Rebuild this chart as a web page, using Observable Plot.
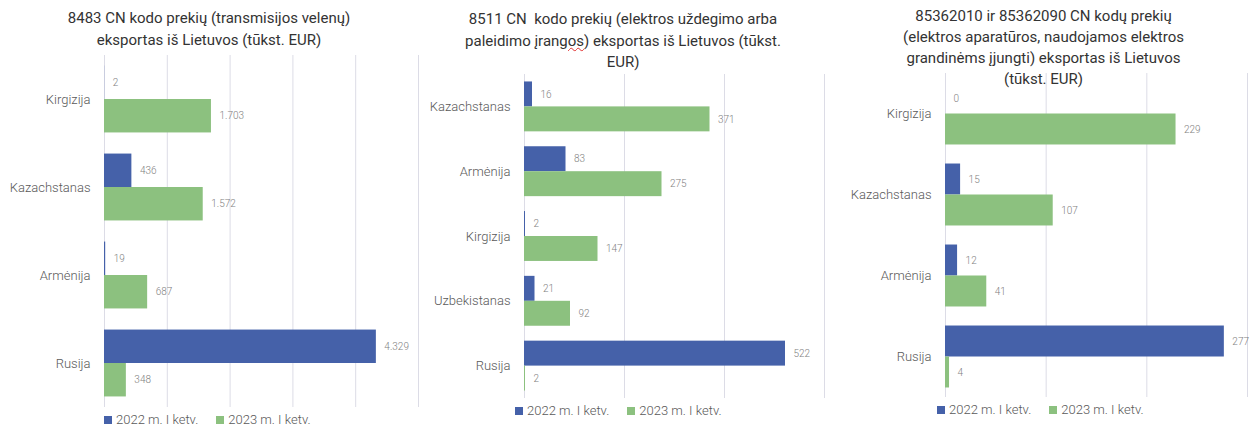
<!DOCTYPE html>
<html><head><meta charset="utf-8">
<script src="https://cdn.jsdelivr.net/npm/d3@7"></script>
<script src="https://cdn.jsdelivr.net/npm/@observablehq/plot@0.6"></script>
<style>
body{margin:0;background:#fff;font-family:Roboto,"Noto Sans",sans-serif;}
#root{position:relative;width:1251px;height:430px;overflow:hidden;background:#fff;}
.panel{position:absolute;top:0;}
.title{position:absolute;text-align:center;font-size:15px;color:#333;line-height:21.5px;white-space:nowrap;}
.legend{position:absolute;font-size:13px;font-weight:300;color:#595959;display:flex;align-items:center;white-space:nowrap;line-height:14px;}
.sw{display:inline-block;width:8px;height:8px;margin-right:4px;}
.gap{display:inline-block;width:18px;}
.spell{text-decoration:underline wavy #e03030;text-decoration-thickness:1px;}
</style></head>
<body><div id="root"></div>
<script>
// ---- data ----
const seriesNames = ["2022 m. I ketv.", "2023 m. I ketv."];

const p1Countries = ["Kirgizija", "Kazachstanas", "Armėnija", "Rusija"];
const p1Values2022 = [2, 436, 19, 4329];
const p1Values2023 = [1703, 1572, 687, 348];
const p1Ticks = [0, 1000, 2000, 3000, 4000, 5000];

const p2Countries = ["Kazachstanas", "Armėnija", "Kirgizija", "Uzbekistanas", "Rusija"];
const p2Values2022 = [16, 83, 2, 21, 522];
const p2Values2023 = [371, 275, 147, 92, 2];
const p2Ticks = [0, 200, 400, 600];

const p3Countries = ["Kirgizija", "Kazachstanas", "Armėnija", "Rusija"];
const p3Values2022 = [0, 15, 12, 277];
const p3Values2023 = [229, 107, 41, 4];
const p3Ticks = [0, 100, 200, 300];

const BLUE = "#4561a9";
const GREEN = "#8cc17f";
const fmt = d3.formatLocale({decimal: ",", thousands: ".", grouping: [3], currency: ["", ""]}).format(",");

const root = document.getElementById("root");

function panel(cfg) {
  const {countries, v22, v23, ticks, left, width, marginLeft, marginRight, marginTop, marginBottom, paddingInner} = cfg;
  const height = 430;
  const n = countries.length;
  const H = height - marginTop - marginBottom;
  const bw = H / n * (1 - paddingInner);
  const rows = countries.map((c, i) => ({country: c, v22: v22[i], v23: v23[i]}));
  const chart = Plot.plot({
    width, height, marginLeft, marginRight, marginTop, marginBottom,
    style: {fontFamily: "Roboto, 'Noto Sans', sans-serif", background: "transparent"},
    x: {domain: [ticks[0], ticks[ticks.length - 1]], axis: null},
    y: {domain: countries, paddingInner, paddingOuter: paddingInner / 2, round: false, axis: null, label: null},
    marks: [
      Plot.ruleX(ticks, {stroke: "#dcdce6", strokeWidth: 1}),
      Plot.barX(rows, {x: "v22", y: "country", fill: BLUE, insetBottom: bw / 2}),
      Plot.barX(rows, {x: "v23", y: "country", fill: GREEN, insetTop: bw / 2}),
      Plot.text(rows, {x: "v22", y: "country", dy: -bw / 4, dx: 8, text: d => fmt(d.v22), textAnchor: "start", fill: "#7f7f7f", fontSize: 10, fontWeight: 300}),
      Plot.text(rows, {x: "v23", y: "country", dy: bw / 4, dx: 8, text: d => fmt(d.v23), textAnchor: "start", fill: "#7f7f7f", fontSize: 10, fontWeight: 300}),
      Plot.axisY({tickSize: 0, tickPadding: 14, fontSize: 13, fontWeight: 300, color: "#595959", label: null})
    ]
  });
  const wrap = document.createElement("div");
  wrap.className = "panel";
  wrap.style.left = left + "px";
  wrap.appendChild(chart);
  root.appendChild(wrap);
}

function title(html, left, width, top, lh) {
  const t = document.createElement("div");
  t.className = "title";
  t.style.left = left + "px"; t.style.width = width + "px"; t.style.top = top + "px";
  if (lh) t.style.lineHeight = lh + "px";
  t.innerHTML = html;
  root.appendChild(t);
}

function legend(left, top) {
  const l = document.createElement("div");
  l.className = "legend";
  l.style.left = left + "px"; l.style.top = top + "px";
  l.innerHTML = `<span class="sw" style="background:${BLUE}"></span>${seriesNames[0]}<span class="gap"></span><span class="sw" style="background:${GREEN}"></span>${seriesNames[1]}`;
  root.appendChild(l);
}

panel({countries: p1Countries, v22: p1Values2022, v23: p1Values2023, ticks: p1Ticks,
  left: 0, width: 420, marginLeft: 104, marginRight: 2, marginTop: 55, marginBottom: 23, paddingInner: 0.24});
panel({countries: p2Countries, v22: p2Values2022, v23: p2Values2023, ticks: p2Ticks,
  left: 420, width: 410, marginLeft: 104, marginRight: 6, marginTop: 74, marginBottom: 32, paddingInner: 0.23});
panel({countries: p3Countries, v22: p3Values2022, v23: p3Values2023, ticks: p3Ticks,
  left: 830, width: 421, marginLeft: 115, marginRight: 4, marginTop: 73, marginBottom: 33, paddingInner: 0.235});

title("8483 CN kodo prekių (transmisijos velenų)<br>eksportas iš Lietuvos (tūkst. EUR)", 0, 418, 7, 22);
title("8511 CN&nbsp; kodo prekių (elektros uždegimo arba<br>paleidimo įran<span class=\"spell\">gos</span>) eksportas iš Lietuvos (tūkst.<br>EUR)", 418, 410, 9, 21.5);
title("85362010 ir 85362090 CN kodų prekių<br>(elektros aparatūros, naudojamos elektros<br>grandinėms įjungti) eksportas iš Lietuvos<br>(tūkst. EUR)", 833, 421, 6, 21);

legend(104, 413);
legend(515, 404);
legend(937, 403);
</script>
</body></html>
